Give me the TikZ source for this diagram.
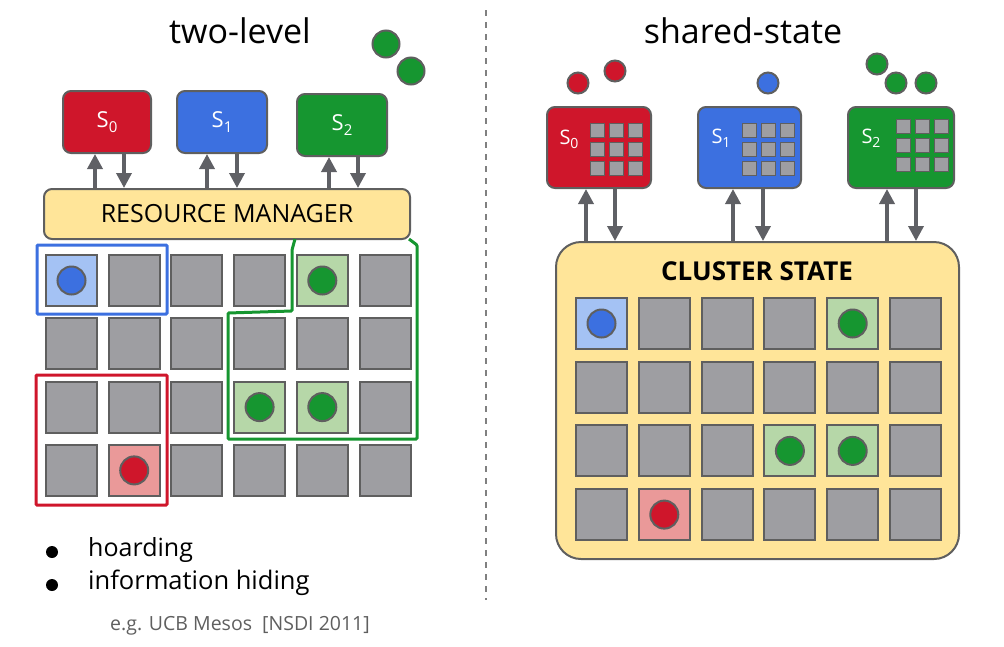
\documentclass[tikz,border=0pt]{standalone}
\usepackage{fontspec}
\setmainfont{Open Sans}
\usetikzlibrary{arrows.meta}

\definecolor{schedred}{HTML}{CF162B}
\definecolor{schedblue}{HTML}{3C70E0}
\definecolor{schedgreen}{HTML}{169630}
\definecolor{lred}{HTML}{EA9999}
\definecolor{lblue}{HTML}{A4C2F4}
\definecolor{lgreen}{HTML}{B6D7A8}
\definecolor{cellgray}{HTML}{9E9EA2}
\definecolor{edgegray}{HTML}{5F5F5F}
\definecolor{flowgray}{HTML}{5F6065}
\definecolor{rmyellow}{HTML}{FFE599}

\newcommand{\fs}[1]{\fontsize{#1}{#1}\selectfont}

\tikzset{
  sched/.style={draw=edgegray, line width=2pt, rounded corners=8pt, text=white, inner sep=0pt},
  cell/.style={draw=edgegray, line width=2pt, fill=cellgray, minimum size=51pt, inner sep=0pt},
  minicell/.style={draw=edgegray, line width=1.5pt, fill=cellgray, minimum size=14pt, inner sep=0pt},
  task/.style={circle, draw=edgegray, line width=2pt, minimum size=28pt, inner sep=0pt},
  ball/.style={circle, draw=edgegray, line width=2pt, inner sep=0pt},
  flow/.style={flowgray, line width=3.5pt, -{Triangle[width=15pt,length=15pt]}},
  frame/.style={line width=3pt, rounded corners=1pt}
}

\begin{document}
\begin{tikzpicture}[x=1pt, y=-1pt]
    \useasboundingbox (0,0) rectangle (1004,646);
    % titles and the dividing line
        \node (lefttitle) at (240,31) {\fs{34}two-level};
        \node (righttitle) at (743,31) {\fs{34}shared-state};
        \draw[gray, line width=2pt, dash pattern=on 6pt off 6pt] (486,10) -- (486,600);

    % two-level: schedulers above the resource manager
        \node[sched, fill=schedred, minimum width=88pt, minimum height=62pt] (ls0) at (107,122) {\fs{22}S\raisebox{-0.4ex}{\fs{15}0}};
        \node[sched, fill=schedblue, minimum width=90pt, minimum height=62pt] (ls1) at (222,122) {\fs{22}S\raisebox{-0.4ex}{\fs{15}1}};
        \node[sched, fill=schedgreen, minimum width=90pt, minimum height=62pt] (ls2) at (342,125) {\fs{22}S\raisebox{-0.4ex}{\fs{15}2}};
        \node[draw=edgegray, line width=2pt, fill=rmyellow, rounded corners=8pt, minimum width=366pt, minimum height=50pt] (rm) at (227,214) {\fs{25}RESOURCE MANAGER};
        \node[ball, fill=schedgreen, minimum size=27pt] (lb0) at (386,44) {};
        \node[ball, fill=schedgreen, minimum size=27pt] (lb1) at (411,71) {};

    % offers go up, claims come down
        \draw[flow] ([xshift=-12pt]ls0.south |- rm.north) -- ([xshift=-12pt]ls0.south);
        \draw[flow] ([xshift=17pt]ls0.south) -- ([xshift=17pt]ls0.south |- rm.north);
        \draw[flow] ([xshift=-15pt]ls1.south |- rm.north) -- ([xshift=-15pt]ls1.south);
        \draw[flow] ([xshift=15pt]ls1.south) -- ([xshift=15pt]ls1.south |- rm.north);
        \draw[flow] ([xshift=-13pt]ls2.south |- rm.north) -- ([xshift=-13pt]ls2.south);
        \draw[flow] ([xshift=16pt]ls2.south) -- ([xshift=16pt]ls2.south |- rm.north);

    % the machines of the two-level cluster
        \foreach \c in {0,...,5}
            \foreach \r in {0,...,3}
                \node[cell] (l-\c-\r) at (71.5+\c*62.7, 280.5+\r*63.3) {};
        \foreach \c/\r/\shade/\dot in {0/0/lblue/schedblue, 4/0/lgreen/schedgreen, 3/2/lgreen/schedgreen, 4/2/lgreen/schedgreen, 1/3/lred/schedred} {
            \node[cell, fill=\shade] at (l-\c-\r) {};
            \node[task, fill=\dot] at (l-\c-\r) {};
        }

    % partitions handed to each scheduler
        \draw[frame, schedblue] (37,245) rectangle (167,314);
        \draw[frame, schedred] (36,375) rectangle (167,505);
        \draw[frame, schedgreen] (295,239) -- (292,250) -- (292,311) -- (228,313) -- (228,439)
            -- (417,439) -- (417,245) -- (409,239);

    % the two drawbacks
        \fill (52,552) circle (6);
        \fill (52,585) circle (6);
        \node[anchor=base west, inner sep=0pt] (hoard) at (88,556) {\fs{25}hoarding};
        \node[anchor=base west, inner sep=0pt] (hide) at (88,589) {\fs{25.5}information hiding};
        \node[anchor=base west, inner sep=0pt, text=edgegray] (mesos) at (110,630) {\fs{19.5}e.g. UCB Mesos\ \ [NSDI 2011]};

    % shared-state: schedulers with their own copy of the state
        \node[sched, fill=schedred, minimum width=104pt, minimum height=81pt] (rs0) at (599,147.5) {};
        \node[sched, fill=schedblue, minimum width=103pt, minimum height=81pt] (rs1) at (749.5,147.5) {};
        \node[sched, fill=schedgreen, minimum width=106pt, minimum height=81pt] (rs2) at (901,147.5) {};
        \node[text=white] (rl0) at (569,139) {\fs{20}S\raisebox{-0.4ex}{\fs{14}0}};
        \node[text=white] (rl1) at (721,138) {\fs{20}S\raisebox{-0.4ex}{\fs{14}1}};
        \node[text=white] (rl2) at (871,138) {\fs{20}S\raisebox{-0.4ex}{\fs{14}2}};
        \foreach \s/\x/\y in {0/597.5/130.5, 1/749.5/130.5, 2/903.5/126.5}
            \foreach \c in {0,1,2}
                \foreach \r in {0,1,2}
                    \node[minicell] (m\s-\c-\r) at (\x+\c*19, \y+\r*19) {};

    % tasks waiting above each scheduler
        \node[ball, fill=schedred, minimum size=21pt] (rb0) at (578,83) {};
        \node[ball, fill=schedred, minimum size=21pt] (rb1) at (615,71) {};
        \node[ball, fill=schedblue, minimum size=21pt] (rb2) at (768,83) {};
        \node[ball, fill=schedgreen, minimum size=21pt] (rb3) at (877,64) {};
        \node[ball, fill=schedgreen, minimum size=21pt] (rb4) at (896,83) {};
        \node[ball, fill=schedgreen, minimum size=21pt] (rb5) at (926,83) {};

    % the cluster state
        \node[draw=edgegray, line width=2pt, fill=rmyellow, rounded corners=25pt, minimum width=403pt, minimum height=317pt] (cs) at (757.5,400.5) {};
        \node (cstitle) at (757,271) {\fs{26}\bfseries CLUSTER STATE};
        \draw[flow] ([xshift=-13pt]rs0.south |- cs.north) -- ([xshift=-13pt]rs0.south);
        \draw[flow] ([xshift=16pt]rs0.south) -- ([xshift=16pt]rs0.south |- cs.north);
        \draw[flow] ([xshift=-16.5pt]rs1.south |- cs.north) -- ([xshift=-16.5pt]rs1.south);
        \draw[flow] ([xshift=13.5pt]rs1.south) -- ([xshift=13.5pt]rs1.south |- cs.north);
        \draw[flow] ([xshift=-14pt]rs2.south |- cs.north) -- ([xshift=-14pt]rs2.south);
        \draw[flow] ([xshift=15pt]rs2.south) -- ([xshift=15pt]rs2.south |- cs.north);

    % the machines of the shared-state cluster
        \foreach \c in {0,...,5}
            \foreach \r in {0,...,3}
                \node[cell] (r-\c-\r) at (601.5+\c*62.8, 323.5+\r*63.7) {};
        \foreach \c/\r/\shade/\dot in {0/0/lblue/schedblue, 4/0/lgreen/schedgreen, 3/2/lgreen/schedgreen, 4/2/lgreen/schedgreen, 1/3/lred/schedred} {
            \node[cell, fill=\shade] at (r-\c-\r) {};
            \node[task, fill=\dot] at (r-\c-\r) {};
        }
\end{tikzpicture}
\end{document}
